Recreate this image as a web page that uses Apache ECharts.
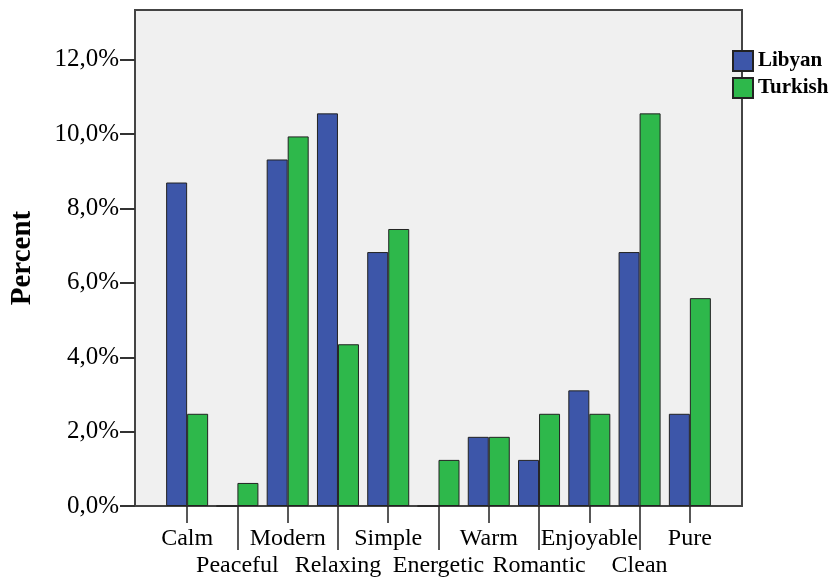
<!DOCTYPE html>
<html>
<head>
<meta charset="utf-8">
<script src="https://cdn.jsdelivr.net/npm/echarts@6/dist/echarts.min.js"></script>
<style>html,body{margin:0;padding:0;background:#fff}#c{width:835px;height:582px}</style>
</head>
<body>
<div id="c"></div>
<script>
const categories = ['Calm','Peaceful','Modern','Relaxing','Simple','Energetic','Warm','Romantic','Enjoyable','Clean','Pure'];
const libyan  = [8.70, 0, 9.32, 10.56, 6.83, 0, 1.86, 1.24, 3.11, 6.83, 2.48];
const turkish = [2.48, 0.62, 9.94, 4.35, 7.45, 1.24, 1.86, 2.48, 2.48, 10.56, 5.59];
const yTicks = [0, 2, 4, 6, 8, 10, 12];
const seriesNames = ['Libyan', 'Turkish'];

const FONT = "'Liberation Serif','Times New Roman',serif";
const YMAX = 13.34;
const chart = echarts.init(document.getElementById('c'));
chart.setOption({
  animation: false,
  textStyle: { fontFamily: FONT },
  legend: {
    orient: 'vertical', left: 732, top: 50, padding: 0,
    itemWidth: 20, itemHeight: 20, itemGap: 5,
    icon: 'rect',
    textStyle: { fontFamily: FONT, fontSize: 21, fontWeight: 'bold', color: '#000' },
    data: seriesNames
  },
  grid: [
    { left: 135, right: 93, top: 10, bottom: 76, show: true, backgroundColor: '#f0f0f0', borderColor: '#444', borderWidth: 2 },
    { left: 162, right: 120, top: 10, bottom: 76 }
  ],
  xAxis: [
    { type: 'category', gridIndex: 0, show: false, data: categories },
    {
      type: 'category', gridIndex: 1, data: categories,
      axisLine: { show: false },
      axisTick: { show: true, alignWithLabel: true, length: 17, interval: (i) => i % 2 === 0, lineStyle: { color: '#222', width: 1.5 } },
      axisLabel: {
        interval: 0, margin: 19, fontFamily: FONT, fontSize: 24, color: '#000', lineHeight: 27,
        formatter: (v, i) => (i % 2 === 1 ? '\n' + v : v)
      }
    },
    {
      type: 'category', gridIndex: 1, data: categories, position: 'bottom',
      axisLine: { show: false },
      axisTick: { show: true, alignWithLabel: true, length: 44, interval: (i) => i % 2 === 1, lineStyle: { color: '#222', width: 1.5 } },
      axisLabel: { show: false }
    }
  ],
  yAxis: [
    {
      type: 'value', gridIndex: 0, min: 0, max: YMAX,
      name: 'Percent', nameLocation: 'middle', nameRotate: 90, nameGap: 98,
      nameTextStyle: { fontFamily: FONT, fontSize: 29, fontWeight: 'bold', color: '#000' },
      axisLine: { show: true, lineStyle: { color: '#444', width: 2 } },
      axisTick: { show: true, length: 15, customValues: yTicks, lineStyle: { color: '#333', width: 2 } },
      axisLabel: {
        customValues: yTicks, margin: 16, fontFamily: FONT, fontSize: 25, color: '#000',
        padding: [3, 0, 0, 0],
        formatter: (v) => v.toFixed(1).replace('.', ',') + '%'
      },
      splitLine: { show: false }
    },
    { type: 'value', gridIndex: 1, min: 0, max: YMAX, show: false }
  ],
  series: [
    {
      name: seriesNames[0], type: 'bar', xAxisIndex: 1, yAxisIndex: 1, data: libyan,
      barWidth: 21, barGap: '0%',
      itemStyle: { color: '#3d56a9', borderColor: '#222', borderWidth: 1 }
    },
    {
      name: seriesNames[1], type: 'bar', xAxisIndex: 1, yAxisIndex: 1, data: turkish,
      barWidth: 21, barGap: '0%',
      itemStyle: { color: '#2eb84b', borderColor: '#222', borderWidth: 1 }
    }
  ]
});
</script>
</body>
</html>
